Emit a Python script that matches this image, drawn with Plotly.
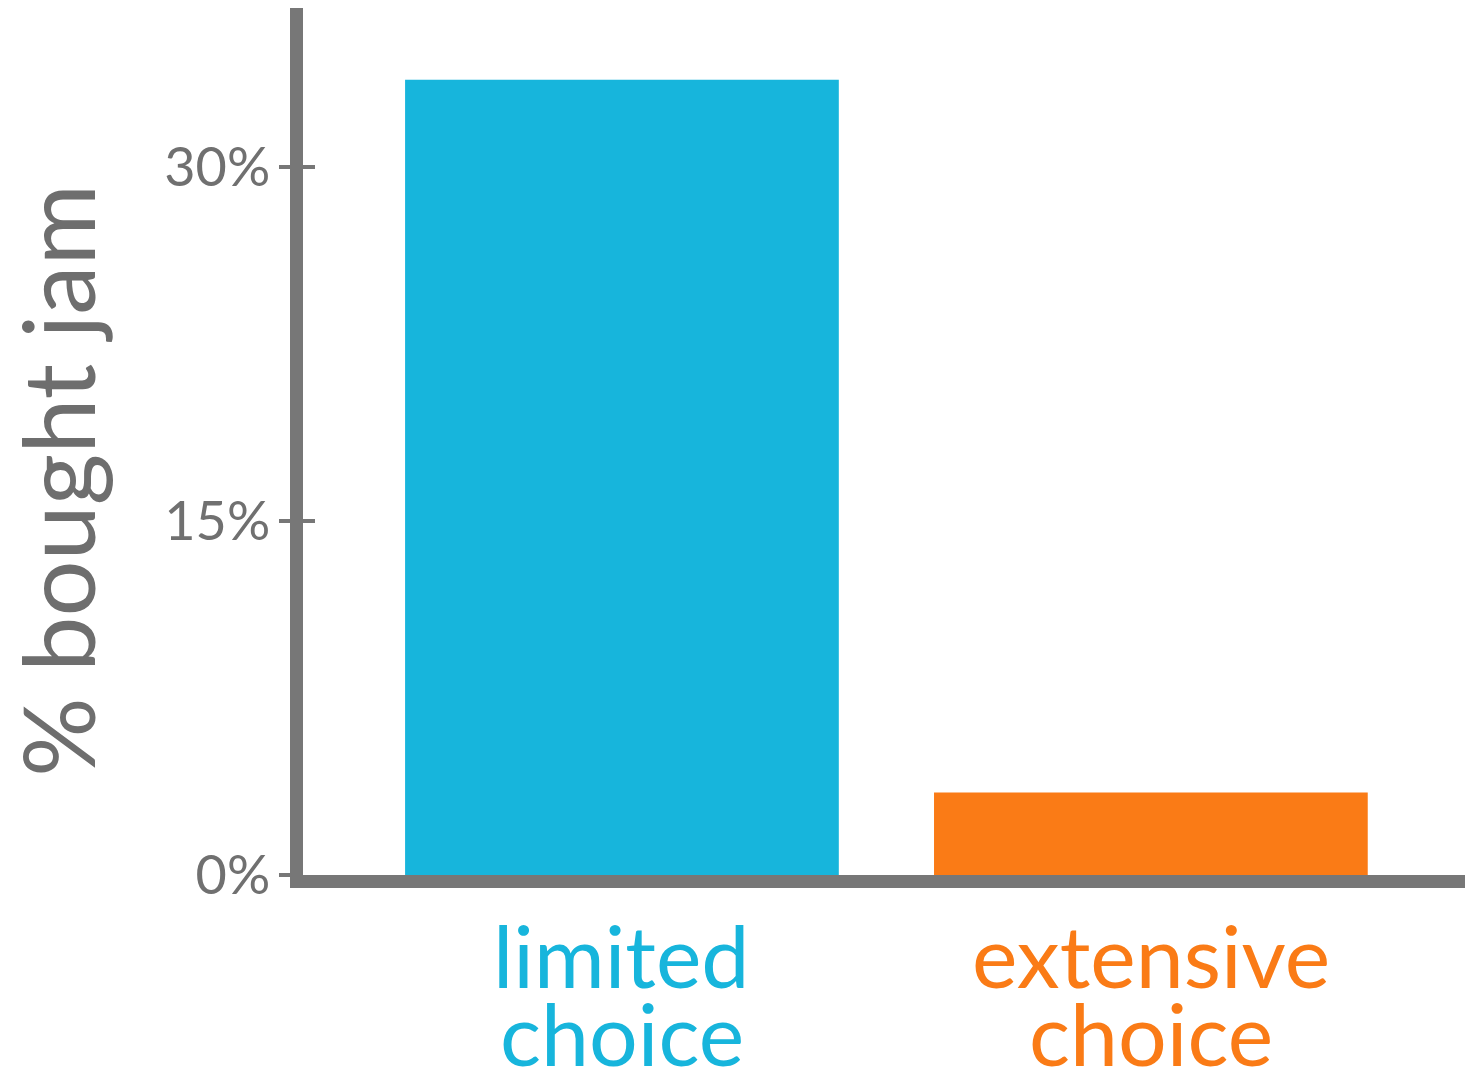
import plotly.graph_objects as go

categories = ["limited choice", "extensive choice"]
bought_pct = [33.7, 3.5]
bar_colors = ["#17b5dc", "#fa7b16"]
label_lines = [["limited", "choice"], ["extensive", "choice"]]
ytick_vals = [0, 15, 30]
ytick_text = ["0%", "15%", "30%"]

GRAY = "#777777"
FONT = "Lato, 'Noto Sans', sans-serif"

fig = go.Figure()

fig.add_trace(go.Bar(
    x=categories, y=bought_pct, width=0.82,
    marker=dict(color=bar_colors, line=dict(width=0)),
    showlegend=False,
))
# dummy trace so the second y axis (inner half of the ticks) gets drawn
fig.add_trace(go.Bar(x=categories, y=bought_pct, yaxis="y2", opacity=0,
                     showlegend=False, hoverinfo="skip", width=0.82))

# category labels, two lines each, coloured like their bar
annotations = []
for cat, lines, col in zip(categories, label_lines, bar_colors):
    for i, txt in enumerate(lines):
        annotations.append(dict(
            x=cat, xref="x", y=-0.092 - i * 0.09, yref="paper",
            text=txt, showarrow=False, xanchor="center", yanchor="middle",
            font=dict(family=FONT, size=86, color=col),
        ))

annotations.append(dict(
    x=-0.2105, xref="paper", y=0.4556, yref="paper",
    text="% bought jam", textangle=-90, showarrow=False,
    xanchor="center", yanchor="middle",
    font=dict(family=FONT, size=99, color="#6e6e6e"),
))

# the page body adds 8px on the left and top, so the figure is 8px smaller
fig.update_layout(
    width=1465, height=1063,
    margin=dict(l=295, r=0, t=0, b=196),
    plot_bgcolor="white", paper_bgcolor="white",
    xaxis=dict(
        range=[-0.603, 1.609], showticklabels=False, ticks="",
        showline=True, linewidth=13, linecolor=GRAY, showgrid=False,
        zeroline=False,
    ),
    yaxis=dict(
        range=[0, 36.74], tickvals=ytick_vals, ticktext=ytick_text,
        ticks="outside", ticklen=11, tickwidth=4, tickcolor=GRAY,
        showline=True, linewidth=13, linecolor=GRAY, showgrid=False,
        zeroline=False, ticklabelstandoff=-2,
        tickfont=dict(family=FONT, size=54, color="#707070"),
    ),
    yaxis2=dict(
        range=[0, 36.74], overlaying="y", side="left",
        tickvals=ytick_vals[1:], showticklabels=False,
        ticks="inside", ticklen=12, tickwidth=4, tickcolor=GRAY,
        showline=False, showgrid=False, zeroline=False,
    ),
    annotations=annotations,
)

fig.write_html("out.html")
